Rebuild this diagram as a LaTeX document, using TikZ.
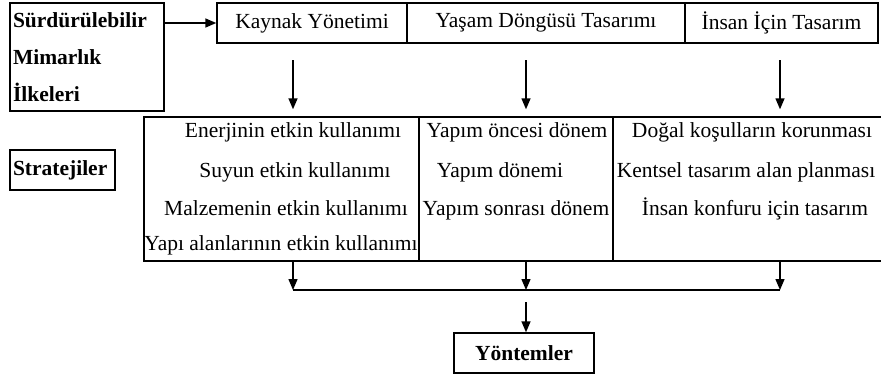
\documentclass[tikz,border=0pt]{standalone}
\usepackage{fontspec}
\setmainfont{Liberation Serif}
\usetikzlibrary{arrows.meta}

\begin{document}
\begin{tikzpicture}[
       x=1pt, y=-1pt,
       line width=1.4pt,
       font=\fontsize{21.5}{25}\selectfont,
       kutu/.style={
         draw,
         rectangle,
         minimum height=40pt,
         inner sep=0pt
       },
       hucre/.style={
         draw,
         rectangle,
         minimum height=144pt,
         inner sep=0pt
       },
       yazi/.style={
         anchor=base,
         inner sep=0pt
       },
       ok/.style={
         -{Triangle[length=11pt,width=9pt]}
       }
     ]

       \useasboundingbox (0,0) rectangle (881,378);

       \node (p0) at (87,57) [draw, minimum width=154pt, minimum height=108pt,
         text width=148pt, inner sep=3pt, align=left,
         font=\bfseries\fontsize{21.5}{37}\selectfont]
         {Sürdürülebilir\\Mimarlık\\İlkeleri};

       \node (p1) at (312,23) [kutu, minimum width=190pt]{Kaynak Yönetimi};
       \node (p2) at (546,23) [kutu, minimum width=278pt]{Yaşam Döngüsü Tasarımı};
       \node (p3) at (781.5,23) [kutu, minimum width=193pt]{İnsan İçin Tasarım};

       \node (st) at (62.5,170) [draw, minimum width=105pt, minimum height=40pt,
         text width=99pt, inner sep=3pt, align=left,
         font=\bfseries\fontsize{21.5}{25}\selectfont]{Stratejiler};

       \node (s1) at (281.5,189) [hucre, minimum width=275pt]{};
       \node (s2) at (516,189) [hucre, minimum width=194pt]{};
       \node (s3) at (747.5,189) [hucre, minimum width=269pt]{};

       \node (k1) at (293,137) [yazi]{Enerjinin etkin kullanımı};
       \node (k2) at (295,177) [yazi]{Suyun etkin kullanımı};
       \node (k3) at (286,215) [yazi]{Malzemenin etkin kullanımı};
       \node (k4) at (281,250) [yazi]{Yapı alanlarının etkin kullanımı};

       \node (d1) at (517,137) [yazi]{Yapım öncesi dönem};
       \node (d2) at (500,177) [yazi]{Yapım dönemi};
       \node (d3) at (516,215) [yazi]{Yapım sonrası dönem};

       \node (i1) at (752,137) [yazi]{Doğal koşulların korunması};
       \node (i2) at (746,177) [yazi]{Kentsel tasarım alan planması};
       \node (i3) at (755,215) [yazi]{İnsan konfuru için tasarım};

       \node (y1) at (524,353) [kutu, minimum width=140pt,
         font=\bfseries\fontsize{21.5}{25}\selectfont]{Yöntemler};

       \coordinate (u1) at (293,60);
       \coordinate (u2) at (526,60);
       \coordinate (u3) at (780,60);
       \coordinate (c1) at (293,290);
       \coordinate (c2) at (526,290);
       \coordinate (c3) at (780,290);
       \coordinate (y0) at (526,302);

       \draw[ok] (p0.east |- p1.west) -- (p1.west);

       \draw[ok] (u1) -- ([yshift=7pt]u1 |- s1.north);
       \draw[ok] (u2) -- ([yshift=7pt]u2 |- s2.north);
       \draw[ok] (u3) -- ([yshift=7pt]u3 |- s3.north);

       \draw[ok] (c1 |- s1.south) -- (c1);
       \draw[ok] (c2 |- s2.south) -- (c2);
       \draw[ok] (c3 |- s3.south) -- (c3);
       \draw (c1) -- (c3);

       \draw[ok] (y0) -- (y0 |- y1.north);

\end{tikzpicture}
\end{document}
